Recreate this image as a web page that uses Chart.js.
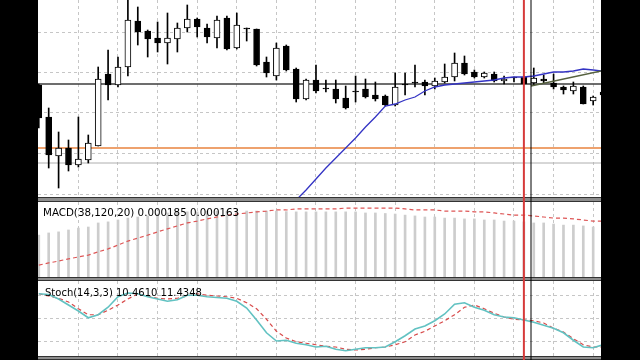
<!DOCTYPE html>
<html>
<head>
<meta charset="utf-8">
<script src="https://cdn.jsdelivr.net/npm/chart.js@4.4.1/dist/chart.umd.min.js"></script>
<style>
  html, body { margin: 0; padding: 0; background: #000; }
  #wrap { position: relative; width: 640px; height: 360px; background: #000; overflow: hidden; }
  .pane { position: absolute; left: 38px; width: 563px; }
  #mainPane { top: 0; height: 202px; }
  #macdPane { top: 202px; height: 79px; }
  #stochPane { top: 281px; height: 79px; }
  canvas { display: block; }
</style>
</head>
<body>
<div id="wrap">
  <div class="pane" id="mainPane"><canvas id="mainChart" width="563" height="202"></canvas></div>
  <div class="pane" id="macdPane"><canvas id="macdChart" width="563" height="79"></canvas></div>
  <div class="pane" id="stochPane"><canvas id="stochChart" width="563" height="79"></canvas></div>
</div>
<script>
// candles, one per bar index 0..57
const candleOpen = [1.3113,1.3081,1.3042,1.3050,1.3033,1.3038,1.3052,1.3124,1.3113,1.3131,
  1.3177,1.3167,1.3160,1.3155,1.3159,1.3170,1.3179,1.3170,1.3160,1.3180,
  1.3150,1.3170,1.3169,1.3136,1.3122,1.3152,1.3129,1.3099,1.3118,1.3110,
  1.3109,1.3100,1.3107,1.3109,1.3103,1.3102,1.3093,1.3114,1.3116,1.3116,
  1.3112,1.3116,1.3121,1.3135,1.3126,1.3121,1.3124,1.3117,1.3121,1.3121,
  1.3115,1.3119,1.3115,1.3111,1.3107,1.3111,1.3097,1.3106];
const candleHigh = [1.3114,1.3090,1.3066,1.3058,1.3081,1.3063,1.3131,1.3148,1.3141,1.3200,
  1.3191,1.3168,1.3176,1.3185,1.3175,1.3193,1.3180,1.3174,1.3182,1.3182,
  1.3185,1.3170,1.3169,1.3141,1.3155,1.3153,1.3130,1.3119,1.3133,1.3118,
  1.3118,1.3112,1.3122,1.3119,1.3116,1.3103,1.3125,1.3125,1.3133,1.3118,
  1.3120,1.3134,1.3145,1.3142,1.3128,1.3126,1.3126,1.3122,1.3121,1.3122,
  1.3130,1.3123,1.3124,1.3112,1.3116,1.3112,1.3102,1.3108];
const candleLow = [1.3070,1.3030,1.3010,1.3027,1.3031,1.3035,1.3052,1.3098,1.3111,1.3122,
  1.3153,1.3141,1.3146,1.3134,1.3146,1.3166,1.3161,1.3155,1.3150,1.3148,
  1.3149,1.3157,1.3132,1.3121,1.3118,1.3127,1.3096,1.3098,1.3105,1.3106,
  1.3095,1.3089,1.3096,1.3100,1.3097,1.3092,1.3092,1.3103,1.3111,1.3103,
  1.3109,1.3115,1.3117,1.3123,1.3120,1.3120,1.3116,1.3114,1.3116,1.3114,
  1.3113,1.3115,1.3109,1.3104,1.3104,1.3094,1.3093,1.3100];
const candleClose = [1.3080,1.3043,1.3050,1.3033,1.3039,1.3055,1.3119,1.3113,1.3131,1.3178,
  1.3166,1.3159,1.3155,1.3160,1.3170,1.3179,1.3171,1.3161,1.3178,1.3149,
  1.3173,1.3169,1.3133,1.3125,1.3150,1.3128,1.3099,1.3118,1.3107,1.3109,
  1.3099,1.3090,1.3106,1.3101,1.3099,1.3093,1.3111,1.3113,1.3115,1.3112,
  1.3117,1.3121,1.3135,1.3124,1.3121,1.3125,1.3117,1.3119,1.3120,1.3114,
  1.3120,1.3117,1.3111,1.3108,1.3112,1.3094,1.3101,1.3103];

// moving average (blue), starts at bar 25
const maFrom = 25;
const maValues = [1.2988,1.2998,1.3008,1.3019,1.3030,1.3040,1.3050,1.3060,1.3071,1.3081,
  1.3092,1.3094,1.3098,1.3101,1.3107,1.3111,1.3113,1.3114,1.3115,1.3116,
  1.3117,1.3118,1.3120,1.3121,1.3121,1.3122,1.3124,1.3126,1.3126,1.3127,
  1.3129,1.3128,1.3127];

// drawn trend line
const trendBars = [49.72, 56.8];
const trendPrices = [1.3112, 1.3127];

// horizontal price lines: black, orange, grey
const levelPrices = [1.3114, 1.3050, 1.3035];
const levelColors = ['#3c3c3c', '#e8833e', '#aeaeae'];
const levelWidths = [1.5, 1.6, 1];

// vertical time lines (bar index)
const markerBars = [49, 49.72];
const markerColors = ['#d63a3a', '#000000'];
const markerWidths = [2, 1];

// grid
const gridCols = [4, 8, 12, 16, 20, 24, 28, 32, 36, 40, 44, 48, 52, 56];
const gridPrices = [1.3004, 1.3045, 1.3086, 1.3126, 1.3166];
const stochLevels = [20, 50, 80];

// MACD(38,120,20)
const macdHist = [0.000155,0.000163,0.000167,0.000174,0.000181,0.000185,0.000200,0.000204,0.000211,0.000218,
  0.000222,0.000226,0.000233,0.000237,0.000241,0.000241,0.000241,0.000244,0.000244,0.000244,
  0.000244,0.000244,0.000244,0.000244,0.000244,0.000242,0.000241,0.000241,0.000241,0.000241,
  0.000241,0.000241,0.000241,0.000237,0.000237,0.000235,0.000233,0.000229,0.000226,0.000222,
  0.000222,0.000218,0.000218,0.000215,0.000215,0.000211,0.000211,0.000207,0.000207,0.000204,
  0.000200,0.000200,0.000196,0.000192,0.000192,0.000189,0.000185,0.000183];
const macdSignal = [0.000044,0.000052,0.000059,0.000067,0.000074,0.000081,0.000093,0.000104,0.000118,0.000133,
  0.000144,0.000155,0.000167,0.000178,0.000189,0.000200,0.000207,0.000215,0.000222,0.000229,
  0.000233,0.000237,0.000241,0.000244,0.000248,0.000248,0.000252,0.000252,0.000252,0.000252,
  0.000252,0.000255,0.000255,0.000255,0.000255,0.000255,0.000255,0.000252,0.000248,0.000248,
  0.000248,0.000244,0.000244,0.000244,0.000241,0.000241,0.000237,0.000233,0.000229,0.000229,
  0.000226,0.000222,0.000218,0.000218,0.000215,0.000211,0.000207,0.000207];

// Stochastic(14,3,3)
const stochMain = [83,82,76,68,60,51,55,65,79,84,
  83,79,76,73,75,81,81,79,78,77,
  73,64,48,31,20,21,17,15,12,13,
  9,7,9,11,11,12,19,27,36,40,
  47,56,69,71,65,61,55,52,51,48,
  45,41,37,31,21,12,11,15];
const stochSignal = [83,80,77,72,63,55,55,61,68,76,
  83,80,77,76,77,80,83,81,80,79,
  77,71,63,49,33,24,19,17,15,13,
  12,9,8,9,11,12,15,19,28,33,
  40,47,55,65,68,63,57,52,49,48,
  47,44,37,32,23,15,12,12];

const macdLabel = 'MACD(38,120,20) 0.000185 0.000163';
const stochLabel = 'Stoch(14,3,3) 10.4610 11.4348';

const xMin = -0.08, xMax = 56.79;

// white pane, price lines, separator band, time lines, label
const paneDecor = {
  id: 'paneDecor',
  beforeDraw(chart) {
    const { ctx, chartArea: a } = chart;
    ctx.save();
    ctx.fillStyle = '#ffffff';
    ctx.fillRect(a.left, a.top, a.right - a.left, a.bottom - a.top);
    ctx.restore();
  },
  beforeDatasetsDraw(chart, args, opts) {
    const { ctx, chartArea: a } = chart;
    const y = chart.scales.y;
    (opts.levels || []).forEach((lv, i) => {
      const py = y.getPixelForValue(lv);
      ctx.save();
      ctx.strokeStyle = levelColors[i];
      ctx.lineWidth = levelWidths[i];
      ctx.beginPath();
      ctx.moveTo(a.left, py);
      ctx.lineTo(a.right, py);
      ctx.stroke();
      ctx.restore();
    });
  },
  afterDraw(chart, args, opts) {
    const { ctx, chartArea: a, width, height } = chart;
    ctx.save();
    // separator under the pane
    ctx.fillStyle = '#8e8e8e';
    ctx.fillRect(0, a.bottom, width, height - a.bottom);
    ctx.fillStyle = '#333333';
    ctx.fillRect(0, a.bottom, width, 1);
    ctx.fillRect(0, height - 1, width, 1);
    // label
    if (opts.label) {
      ctx.fillStyle = '#000000';
      ctx.font = opts.labelFont;
      ctx.textBaseline = 'alphabetic';
      ctx.fillText(opts.label, opts.labelX, opts.labelY);
    }
    // vertical time lines across the whole pane
    const x = chart.scales.x;
    markerBars.forEach((b, i) => {
      const px = x.getPixelForValue(b);
      ctx.strokeStyle = markerColors[i];
      ctx.lineWidth = markerWidths[i];
      ctx.beginPath();
      ctx.moveTo(px, 0);
      ctx.lineTo(px, height);
      ctx.stroke();
    });
    ctx.restore();
  }
};

function paneOptions(yMin, yMax, yGrid, padBottom, decor) {
  const gridStyle = { color: '#c6c6c6', lineWidth: 1, drawTicks: false, offset: false };
  return {
    responsive: false,
    animation: false,
    events: [],
    layout: { padding: { left: 0, right: 0, top: 0, bottom: padBottom } },
    plugins: { legend: { display: false }, tooltip: { enabled: false }, paneDecor: decor },
    scales: {
      x: {
        type: 'linear', min: xMin, max: xMax, offset: false,
        afterBuildTicks: ax => { ax.ticks = gridCols.map(v => ({ value: v })); },
        ticks: { display: false },
        grid: gridStyle,
        border: { display: false, dash: [3, 3] }
      },
      y: {
        type: 'linear', min: yMin, max: yMax,
        afterBuildTicks: ax => { ax.ticks = yGrid.map(v => ({ value: v })); },
        ticks: { display: false },
        grid: gridStyle,
        border: { display: false, dash: [3, 3] }
      }
    }
  };
}

// main price pane
const wickData = candleHigh.map((h, i) => ({ x: i, y: [candleLow[i], h] }));
const bodyData = candleOpen.map((o, i) => ({ x: i, y: [o, candleClose[i]] }));
const bodyFill = candleOpen.map((o, i) => candleClose[i] >= o ? '#ffffff' : '#000000');
const maPoints = maValues.map((v, k) => ({ x: maFrom + k, y: v }));
const trendPoints = trendBars.map((b, k) => ({ x: b, y: trendPrices[k] }));

new Chart(document.getElementById('mainChart'), {
  type: 'bar',
  data: {
    datasets: [
      { type: 'line', data: trendPoints, borderColor: '#56613f', borderWidth: 1.3, pointRadius: 0, tension: 0, order: 1, clip: 0 },
      { type: 'line', data: maPoints, borderColor: '#3434c4', borderWidth: 1.3, pointRadius: 0, tension: 0, order: 1, clip: 0 },
      { data: bodyData, backgroundColor: bodyFill, borderColor: '#000000', borderWidth: 1, borderSkipped: false,
        barThickness: 6, grouped: false, order: 2, clip: 0 },
      { data: wickData, backgroundColor: '#000000', borderWidth: 0, barThickness: 1, grouped: false, order: 3, clip: 0 }
    ]
  },
  options: paneOptions(1.3001, 1.3198, gridPrices, 5, { levels: levelPrices }),
  plugins: [paneDecor]
});

// MACD pane
new Chart(document.getElementById('macdChart'), {
  type: 'bar',
  data: {
    datasets: [
      { type: 'line', data: macdSignal.map((v, i) => ({ x: i, y: v })), borderColor: '#de5656', borderWidth: 1.2,
        borderDash: [4, 3], pointRadius: 0, tension: 0, order: 1, clip: 0 },
      { data: macdHist.map((v, i) => ({ x: i, y: v })), backgroundColor: '#cdcdcd', borderWidth: 0,
        barThickness: 2, grouped: false, order: 2, clip: 0 }
    ]
  },
  options: paneOptions(0, 0.0002775, [], 4, { label: macdLabel, labelX: 5, labelY: 14, labelFont: '10.3px "DejaVu Sans"' }),
  plugins: [paneDecor]
});

// Stochastic pane
new Chart(document.getElementById('stochChart'), {
  type: 'line',
  data: {
    datasets: [
      { data: stochSignal.map((v, i) => ({ x: i, y: v })), borderColor: '#d84a4a', borderWidth: 1.2,
        borderDash: [4, 3], pointRadius: 0, tension: 0, order: 2, clip: 0 },
      { data: stochMain.map((v, i) => ({ x: i, y: v })), borderColor: '#62c2c2', borderWidth: 1.6,
        pointRadius: 0, tension: 0, order: 1, clip: 0 }
    ]
  },
  options: paneOptions(0, 100, stochLevels, 4, { label: stochLabel, labelX: 7, labelY: 15, labelFont: '10px "DejaVu Sans"' }),
  plugins: [paneDecor]
});
</script>
</body>
</html>
